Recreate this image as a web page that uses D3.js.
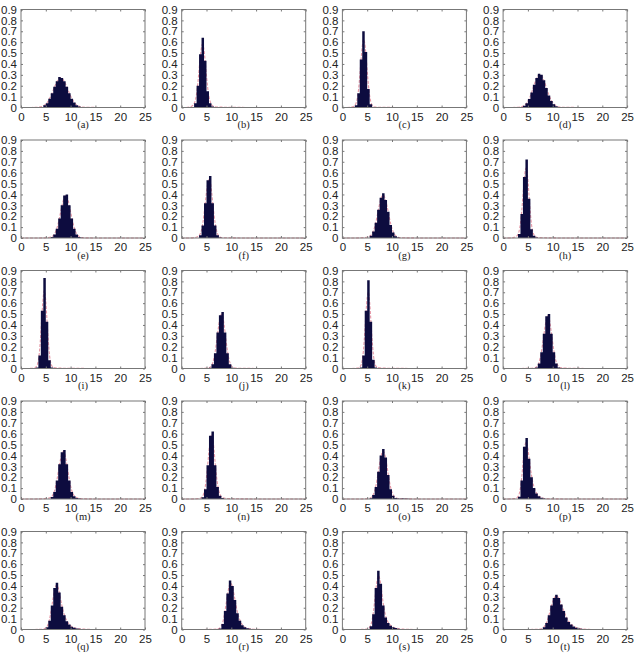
<!DOCTYPE html>
<html>
<head>
  <meta charset="utf-8">
  <title>Histograms (a)-(t)</title>
  <script src="https://d3js.org/d3.v7.min.js"></script>
  <style>
    body { margin: 0; padding: 0; background: #fff; }
    .tick text { font-family: "Liberation Sans", Arial, sans-serif; font-size: 11.5px; fill: #222; }
    .tick line { stroke: #777; }
    .lab { font-family: "Liberation Serif", "Times New Roman", serif; font-size: 10.5px; fill: #222; }
  </style>
</head>
<body>
<div id="chart"></div>
<script>
  // panel labels and axis ticks
  var labels = ["(a)","(b)","(c)","(d)","(e)","(f)","(g)","(h)","(i)","(j)",
                "(k)","(l)","(m)","(n)","(o)","(p)","(q)","(r)","(s)","(t)"];
  var xTicks = [0, 5, 10, 15, 20, 25];
  var yTicks = [0, 0.1, 0.2, 0.3, 0.4, 0.5, 0.6, 0.7, 0.8, 0.9];

  // histogram bins (width 0.5), left edge of first bin per panel
  var binWidth = 0.5;
  var starts = [4.5, 2.5, 2.5, 4.0, 6.0, 3.5, 5.5, 3.0, 3.0, 5.5,
                3.5, 6.5, 6.0, 4.0, 5.5, 3.0, 4.5, 7.5, 5.0, 7.5];

  // estimated densities
  var binsA = [0.02,0.04,0.08,0.13,0.19,0.24,0.28,0.27,0.24,0.19,0.13,0.08,0.045,0.02,0.01,0.004];
  var binsB = [0.04,0.2,0.49,0.64,0.43,0.15,0.04,0.01];
  var binsC = [0.02,0.13,0.44,0.70,0.51,0.17,0.03,0.005];
  var binsD = [0.016,0.038,0.077,0.137,0.21,0.27,0.31,0.30,0.25,0.18,0.11,0.06,0.03,0.012,0.005];
  var binsE = [0.009,0.032,0.086,0.18,0.30,0.39,0.40,0.30,0.18,0.086,0.032,0.01,0.003];
  var binsF = [0.025,0.115,0.32,0.53,0.57,0.32,0.115,0.025,0.005];
  var binsG = [0.02,0.06,0.14,0.26,0.37,0.41,0.35,0.24,0.12,0.05,0.016,0.005];
  var binsH = [0.036,0.22,0.56,0.72,0.36,0.08,0.02,0.005];
  var binsI = [0.01,0.12,0.53,0.83,0.43,0.075,0.01];
  var binsJ = [0.007,0.04,0.14,0.33,0.49,0.52,0.33,0.14,0.04,0.007];
  var binsK = [0.01,0.12,0.53,0.81,0.43,0.08,0.01];
  var binsL = [0.01,0.045,0.15,0.32,0.48,0.50,0.32,0.15,0.045,0.01];
  var binsM = [0.018,0.065,0.17,0.32,0.43,0.45,0.32,0.17,0.065,0.025,0.01,0.004];
  var binsN = [0.015,0.09,0.31,0.58,0.62,0.31,0.11,0.03,0.01];
  var binsO = [0.008,0.037,0.11,0.25,0.40,0.46,0.38,0.22,0.09,0.03,0.01,0.004,0.003,0.004,0.003,0.002,0.001];
  var binsP = [0.02,0.17,0.48,0.56,0.37,0.2,0.1,0.05,0.025,0.012,0.005];
  var binsQ = [0.005,0.02,0.08,0.22,0.38,0.43,0.34,0.21,0.13,0.075,0.045,0.025,0.015,0.009,0.006,0.004,0.003,0.002,0.001];
  var binsR = [0.01,0.05,0.17,0.33,0.45,0.40,0.27,0.15,0.08,0.04,0.02,0.012,0.007,0.004,0.002];
  var binsS = [0.005,0.03,0.14,0.38,0.54,0.42,0.22,0.11,0.06,0.035,0.02,0.013,0.008,0.005,0.003,0.002];
  var binsT = [0.005,0.02,0.06,0.13,0.22,0.29,0.32,0.29,0.23,0.17,0.11,0.07,0.045,0.028,0.017,0.01,0.006,0.004,0.002,0.001];

  var allBins = [binsA, binsB, binsC, binsD, binsE, binsF, binsG, binsH, binsI, binsJ,
                 binsK, binsL, binsM, binsN, binsO, binsP, binsQ, binsR, binsS, binsT];

  var width = 641, height = 653;
  var boxW = 124, boxH = 98;
  var colStep = 160.7, rowStep = 130.5;
  var left0 = 21, top0 = 9.5;

  var svg = d3.select("#chart").append("svg")
      .attr("width", width)
      .attr("height", height);

  var x = d3.scaleLinear().domain([0, 25]).range([0, boxW]);
  var y = d3.scaleLinear().domain([0, 0.9]).range([boxH, 0]);

  // histogram outline as one stepped area, so bars have no seams
  var area = d3.area()
      .x(function(d) { return x(d[0]); })
      .y0(y(0))
      .y1(function(d) { return y(d[1]); })
      .curve(d3.curveStepAfter);

  var line = d3.line()
      .x(function(d) { return x(d[0]); })
      .y(function(d) { return y(d[1]); })
      .curve(d3.curveBasis);

  allBins.forEach(function(bins, i) {
    var col = i % 4, row = Math.floor(i / 4);
    var g = svg.append("g")
        .attr("transform", "translate(" + (left0 + col * colStep) + "," + (top0 + row * rowStep) + ")");
    var start = starts[i];

    // fitted curve through bin centres, flat at zero elsewhere (under the bars)
    var pts = [[0, 0], [start - binWidth, 0]];
    bins.forEach(function(d, k) { pts.push([start + (k + 0.5) * binWidth, d]); });
    pts.push([start + (bins.length + 1) * binWidth, 0], [25, 0]);
    g.append("path")
        .attr("d", line(pts))
        .attr("fill", "none")
        .attr("stroke", "#e597a6")
        .attr("stroke-width", 1.1)
        .attr("stroke-dasharray", "3,1.5");

    // bars
    var steps = bins.map(function(d, k) { return [start + k * binWidth, d]; });
    steps.push([start + bins.length * binWidth, 0]);
    g.append("path")
        .attr("d", area(steps))
        .attr("fill", "#0d0c3f");

    // axes with inward ticks
    g.append("g")
        .attr("transform", "translate(0," + boxH + ")")
        .call(d3.axisBottom(x).tickValues(xTicks).tickSize(-2).tickPadding(5))
        .call(function(a) { a.select(".domain").remove(); });
    g.append("g")
        .call(d3.axisTop(x).tickValues(xTicks).tickSize(-2).tickFormat(""))
        .call(function(a) { a.select(".domain").remove(); });
    g.append("g")
        .call(d3.axisLeft(y).tickValues(yTicks).tickSize(-2).tickPadding(4)
              .tickFormat(function(d) { return d === 0 ? "0" : d3.format(".1f")(d); }))
        .call(function(a) { a.select(".domain").remove(); });
    g.append("g")
        .attr("transform", "translate(" + boxW + ",0)")
        .call(d3.axisRight(y).tickValues(yTicks).tickSize(-2).tickFormat(""))
        .call(function(a) { a.select(".domain").remove(); });

    g.append("rect")
        .attr("width", boxW)
        .attr("height", boxH)
        .attr("fill", "none")
        .attr("stroke", "#777")
        .attr("stroke-width", 1);

    g.append("text")
        .attr("class", "lab")
        .attr("x", boxW / 2)
        .attr("y", boxH + 20.5)
        .attr("text-anchor", "middle")
        .text(labels[i]);
  });
</script>
</body>
</html>
